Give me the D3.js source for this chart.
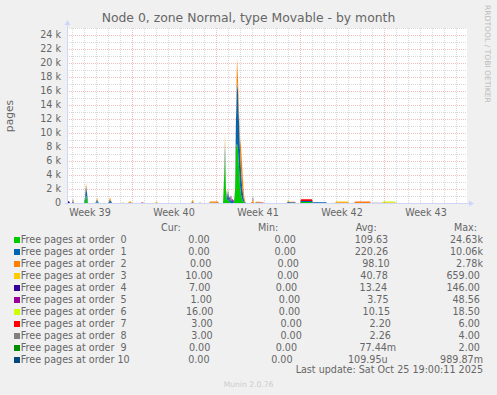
<!DOCTYPE html>
<html>
<head>
<meta charset="utf-8">
<script src="https://cdn.jsdelivr.net/npm/d3@7"></script>
<style>
body { margin: 0; background: #f0f0f0; }
svg { display: block; font-family: "DejaVu Sans", sans-serif; }
text { white-space: pre; }
</style>
</head>
<body>
<div id="chart"></div>
<script>
var WIDTH = 497;
var HEIGHT = 395;
var PLOT = { left: 67, top: 28, width: 400, height: 175 };

// graph window: 400 px at 2 h per px
var START = new Date(2025, 8, 23, 14, 0);
var SPAN_HOURS = 800;
var Y_MAX = 25000;

var orders = [0, 1, 2, 3, 4, 5, 6, 7, 8, 9, 10];
var colors = ["#00CC00", "#0066B3", "#FF8000", "#FFCC00", "#330099", "#990099",
	"#CCFF00", "#FF0000", "#808080", "#008F00", "#00487D"];

// [hours since START, free pages]
var freeOrder0 = [
	[34, 0], [36, 300], [38, 1100], [40, 500], [42, 0],
	[58, 0], [60, 100], [62, 0],
	[84, 0], [86, 50], [88, 0],
	[312, 0], [314, 3000], [316, 7000], [318, 1500], [320, 400], [322, 500], [324, 200], [326, 100], [328, 0],
	[332, 0], [334, 100], [336, 1500], [338, 8000], [340, 8500], [342, 7500], [344, 5000], [346, 2500],
	[348, 1200], [350, 600], [352, 300], [354, 100], [356, 0],
	[466, 0], [468, 150], [490, 150], [492, 0]
];
var freeOrder1 = [
	[10, 0], [12, 250], [14, 0],
	[34, 0], [36, 400], [38, 1400], [40, 900], [42, 0],
	[56, 0], [58, 100], [60, 400], [62, 150], [64, 0],
	[82, 0], [84, 150], [86, 450], [88, 200], [90, 0],
	[122, 0], [126, 80], [130, 0],
	[248, 0], [250, 80], [252, 100], [254, 0],
	[284, 0], [286, 40], [302, 40], [304, 0],
	[312, 0], [314, 300], [316, 1500], [318, 300], [320, 300], [322, 1200], [324, 400], [326, 200],
	[328, 600], [330, 200], [332, 100], [334, 100], [336, 300], [338, 4000], [340, 8800], [342, 8500],
	[344, 6500], [346, 5000], [348, 3500], [350, 2000], [352, 1000], [354, 300], [356, 100], [358, 0],
	[376, 0], [378, 80], [386, 80], [388, 0],
	[440, 0], [442, 250], [444, 150], [446, 100], [456, 100], [458, 0],
	[466, 0], [468, 120], [490, 120], [492, 100], [518, 100], [520, 0]
];
var freeOrder2 = [
	[10, 0], [12, 200], [14, 0],
	[34, 0], [36, 100], [38, 300], [40, 300], [42, 0],
	[56, 0], [58, 50], [60, 200], [62, 100], [64, 0],
	[82, 0], [84, 100], [86, 250], [88, 150], [90, 0],
	[122, 0], [126, 150], [130, 0],
	[150, 0], [152, 100], [154, 0],
	[176, 0], [178, 50], [180, 80], [182, 0],
	[248, 0], [250, 150], [252, 250], [254, 0],
	[284, 0], [286, 180], [302, 180], [304, 0],
	[312, 0], [314, 200], [316, 700], [318, 200], [320, 100], [322, 300], [324, 100], [326, 0], [328, 200], [330, 0],
	[336, 0], [338, 1000], [340, 3500], [342, 1500], [344, 1500], [346, 1800], [348, 3300], [350, 3000],
	[352, 1800], [354, 700], [356, 200], [358, 0],
	[368, 0], [370, 200], [372, 300], [374, 0],
	[376, 0], [378, 100], [386, 100], [388, 0],
	[444, 0], [446, 80], [456, 80], [458, 0],
	[536, 0], [538, 100], [562, 100], [564, 0],
	[574, 0], [576, 150], [606, 150], [608, 0],
	[630, 0], [632, 60], [656, 60], [658, 0]
];
var freeOrder3 = [
	[10, 0], [12, 50], [14, 0],
	[36, 0], [38, 150], [40, 100], [42, 0],
	[58, 0], [60, 60], [62, 0],
	[84, 0], [86, 100], [88, 50], [90, 0],
	[110, 0], [112, 150], [114, 0],
	[122, 0], [126, 100], [130, 0],
	[176, 0], [178, 150], [180, 100], [182, 0],
	[248, 0], [250, 100], [252, 100], [254, 0],
	[314, 0], [316, 600], [318, 0], [320, 0], [322, 100], [324, 0], [326, 0], [328, 200], [330, 0],
	[348, 0], [350, 300], [352, 300], [354, 200], [356, 0],
	[370, 0], [372, 250], [374, 0],
	[440, 0], [442, 250], [444, 100], [446, 0],
	[536, 0], [538, 100], [562, 100], [564, 0],
	[574, 0], [576, 40], [606, 40], [608, 0]
];
var freeOrder4 = [
	[0, 0], [2, 250], [4, 250], [6, 0],
	[10, 0], [12, 100], [14, 0],
	[318, 0], [320, 100], [322, 0], [324, 200], [326, 300], [328, 100], [330, 200], [332, 100], [334, 100], [336, 0]
];
var freeOrder5 = [
	[148, 0], [150, 100], [152, 0],
	[324, 0], [326, 100], [328, 0], [330, 150], [332, 300], [334, 0],
	[370, 0], [372, 150], [374, 0]
];
var freeOrder6 = [
	[264, 0], [266, 70], [268, 0],
	[630, 0], [632, 150], [656, 150], [658, 0]
];
var freeOrder7 = [
	[386, 0], [388, 60], [392, 60], [394, 0],
	[466, 0], [468, 250], [490, 250], [492, 0],
	[574, 0], [576, 40], [606, 40], [608, 0]
];
var freeOrder8 = [
	[264, 0], [266, 80], [268, 0],
	[314, 0], [316, 300], [318, 0],
	[370, 0], [372, 300], [374, 0],
	[610, 0], [612, 40], [630, 40], [632, 0]
];
var freeOrder9 = [];
var freeOrder10 = [];

var seriesPoints = [freeOrder0, freeOrder1, freeOrder2, freeOrder3, freeOrder4, freeOrder5,
	freeOrder6, freeOrder7, freeOrder8, freeOrder9, freeOrder10];

// legend numbers
var legendCur = [0, 0, 0, 10, 7, 1, 16, 3, 3, 0, 0];
var legendMin = [0, 0, 0, 0, 0, 0, 0, 0, 0, 0, 0];
var legendAvg = [109.63, 220.26, 98.10, 40.78, 13.24, 3.75, 10.15, 2.20, 2.26, 0.07744, 0.00010995];
var legendMax = [24630, 10060, 2780, 659, 146, 48.56, 18.5, 6, 4, 2, 0.98987];

var TITLE = "Node 0, zone Normal, type Movable - by month";
var LAST_UPDATE = "Last update: Sat Oct 25 19:00:11 2025";

function rrdFormat(v) {
	var prefixes = { "-2": "u", "-1": "m", "0": " ", "1": "k" };
	var e = v === 0 ? 0 : Math.floor(Math.log10(Math.abs(v)) / 3);
	var m = v / Math.pow(1000, e);
	return m.toFixed(2).padStart(6) + prefixes[e];
}

// common time grid, missing = 0
var hours = [0, SPAN_HOURS];
seriesPoints.forEach(function (pts) { pts.forEach(function (p) { hours.push(p[0]); }); });
hours = Array.from(new Set(hours)).sort(function (a, b) { return a - b; });
var lookups = seriesPoints.map(function (pts) { return new Map(pts); });
var table = hours.map(function (h) {
	var row = { date: d3.timeHour.offset(START, h) };
	orders.forEach(function (o, i) { row[o] = lookups[i].get(h) || 0; });
	return row;
});
var stacked = d3.stack().keys(orders)(table);

var svg = d3.select("#chart").append("svg")
	.attr("width", WIDTH)
	.attr("height", HEIGHT);

svg.append("rect").attr("width", WIDTH).attr("height", HEIGHT).attr("fill", "#f0f0f0");

var x = d3.scaleTime()
	.domain([START, d3.timeHour.offset(START, SPAN_HOURS)])
	.range([PLOT.left, PLOT.left + PLOT.width]);
var y = d3.scaleLinear()
	.domain([0, Y_MAX])
	.range([PLOT.top + PLOT.height, PLOT.top]);

// canvas
svg.append("rect")
	.attr("x", PLOT.left).attr("y", PLOT.top)
	.attr("width", PLOT.width).attr("height", PLOT.height)
	.attr("fill", "#ffffff");

// areas
var area = d3.area()
	.x(function (d) { return x(d.data.date); })
	.y0(function (d) { return y(d[0]); })
	.y1(function (d) { return y(d[1]); });

svg.append("g").selectAll("path")
	.data(stacked)
	.join("path")
	.attr("fill", function (d, i) { return colors[i]; })
	.attr("d", area);

// grid (drawn over the areas, like rrdtool)
var grid = svg.append("g").attr("shape-rendering", "crispEdges").attr("stroke-dasharray", "1,1");
var minorCol = "rgba(120,120,120,0.28)";
var majorCol = "rgba(210,50,50,0.32)";

grid.selectAll(".hgrid")
	.data(y.ticks(25).filter(function (d) { return d > 0; }))
	.join("line")
	.attr("class", "hgrid")
	.attr("x1", PLOT.left).attr("x2", PLOT.left + PLOT.width)
	.attr("y1", function (d) { return y(d); })
	.attr("y2", function (d) { return y(d); })
	.attr("stroke", function (d) { return d % 2000 === 0 ? majorCol : minorCol; });

var xDomain = x.domain();
var days = d3.timeDay.range(d3.timeDay.ceil(xDomain[0]), xDomain[1]);
grid.selectAll(".vgrid")
	.data(days)
	.join("line")
	.attr("class", "vgrid")
	.attr("x1", function (d) { return Math.round(x(d)); })
	.attr("x2", function (d) { return Math.round(x(d)); })
	.attr("y1", PLOT.top).attr("y2", PLOT.top + PLOT.height)
	.attr("stroke", function (d) { return d.getDay() === 1 ? majorCol : minorCol; });

// axes
var axisCol = "#CFD6F8";
var x0 = PLOT.left, yb = PLOT.top + PLOT.height;
svg.append("line").attr("x1", x0 - 2).attr("x2", x0 + PLOT.width + 3)
	.attr("y1", yb + 0.5).attr("y2", yb + 0.5).attr("stroke", axisCol);
svg.append("line").attr("x1", x0 + 0.5).attr("x2", x0 + 0.5)
	.attr("y1", yb + 2).attr("y2", PLOT.top - 4).attr("stroke", axisCol);
svg.append("path")
	.attr("d", "M" + (x0 + PLOT.width + 2) + "," + (yb - 2.5) + "L" + (x0 + PLOT.width + 7) + "," + (yb + 0.5) +
		"L" + (x0 + PLOT.width + 2) + "," + (yb + 3.5) + "Z")
	.attr("fill", axisCol);
svg.append("path")
	.attr("d", "M" + (x0 - 2.5) + "," + (PLOT.top - 3) + "L" + (x0 + 0.5) + "," + (PLOT.top - 8) +
		"L" + (x0 + 3.5) + "," + (PLOT.top - 3) + "Z")
	.attr("fill", axisCol);

var fontCol = "#666666";

// y labels
svg.append("g").selectAll("text")
	.data(y.ticks(25).filter(function (d) { return d % 2000 === 0; }))
	.join("text")
	.attr("x", PLOT.left - 6)
	.attr("y", function (d) { return y(d); })
	.attr("dy", "0.36em")
	.attr("text-anchor", "end")
	.attr("fill", fontCol)
	.style("font-size", "9.6px")
	.text(function (d) { return d === 0 ? "0" : (d / 1000) + " k"; });

// x labels: centered in each week
var weeks = d3.timeMonday.range(d3.timeMonday.floor(xDomain[0]), xDomain[1])
	.filter(function (d) {
		var mid = d3.timeHour.offset(d, 84);
		return mid > xDomain[0] && mid < xDomain[1];
	});
svg.append("g").selectAll("text")
	.data(weeks)
	.join("text")
	.attr("x", function (d) { return x(d3.timeHour.offset(d, 84)); })
	.attr("y", 216)
	.attr("text-anchor", "middle")
	.attr("fill", fontCol)
	.style("font-size", "9.6px")
	.text(function (d) { return "Week " + d3.timeFormat("%V")(d); });

// title, unit, watermark
svg.append("text")
	.attr("x", WIDTH / 2).attr("y", 22.3)
	.attr("text-anchor", "middle")
	.attr("fill", fontCol)
	.style("font-size", "12.4px")
	.text(TITLE);

svg.append("text")
	.attr("transform", "translate(13," + (PLOT.top + PLOT.height / 2 + 0.5) + ") rotate(-90)")
	.attr("text-anchor", "middle")
	.attr("fill", fontCol)
	.style("font-size", "10.7px")
	.text("pages");

svg.append("text")
	.attr("transform", "translate(484.5,5) rotate(90)")
	.attr("fill", "#bbbbbb")
	.style("font-size", "7.6px")
	.text("RRDTOOL / TOBI OETIKER");

// legend, justified like rrdtool
var LEG_LEFT = 14, LEG_RIGHT = 483, LEG_BASE = 242.5, LEG_STEP = 12, BOX = 6;
var legend = svg.append("g").attr("fill", fontCol).style("font-size", "9.6px");

var head = ["Cur:", "Min:", "Avg:", "Max:"];
var headLeft = 161, headRight = 477;
var headTexts = head.map(function (h) {
	return legend.append("text").attr("y", 231).text(h);
});
var headW = headTexts.map(function (t) { return t.node().getComputedTextLength(); });
var headGap = (headRight - headLeft - d3.sum(headW)) / (head.length - 1);
var hx = headLeft;
headTexts.forEach(function (t, i) { t.attr("x", hx); hx += headW[i] + headGap; });

orders.forEach(function (o, i) {
	var base = LEG_BASE + i * LEG_STEP;
	var cells = [
		"Free pages at order " + String(o).padStart(2),
		rrdFormat(legendCur[i]),
		rrdFormat(legendMin[i]),
		rrdFormat(legendAvg[i]),
		rrdFormat(legendMax[i])
	];
	var texts = cells.map(function (c) { return legend.append("text").attr("y", base).text(c); });
	var widths = texts.map(function (t) { return t.node().getComputedTextLength(); });
	widths[0] += BOX + 0.7;
	var gap = (LEG_RIGHT - LEG_LEFT - d3.sum(widths)) / (cells.length - 1);

	legend.append("rect")
		.attr("x", LEG_LEFT).attr("y", base - 5.5)
		.attr("width", BOX).attr("height", BOX)
		.attr("fill", colors[i]);

	var cx = LEG_LEFT;
	texts.forEach(function (t, k) {
		t.attr("x", k === 0 ? cx + BOX + 0.7 : cx);
		cx += widths[k] + gap;
	});
});

legend.append("text")
	.attr("x", LEG_RIGHT).attr("y", 373)
	.attr("text-anchor", "end")
	.text(LAST_UPDATE);

svg.append("text")
	.attr("x", WIDTH / 2).attr("y", 387)
	.attr("text-anchor", "middle")
	.attr("fill", "#cccccc")
	.style("font-size", "7.6px")
	.text("Munin 2.0.76");
</script>
</body>
</html>
